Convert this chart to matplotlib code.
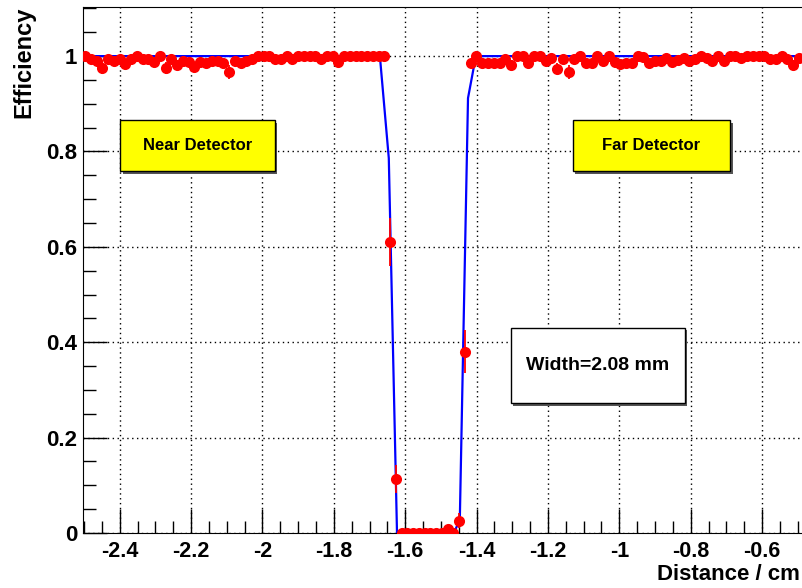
import numpy as np
import matplotlib
matplotlib.use("Agg")
import matplotlib.pyplot as plt
from matplotlib.patches import Rectangle
from matplotlib.ticker import MultipleLocator, FormatStrFormatter

plt.rcParams['font.family'] = ['Liberation Sans', 'DejaVu Sans']
plt.rcParams['font.weight'] = 'bold'
plt.rcParams['axes.unicode_minus'] = False

# bin centres of the scan (cm)
x_first = -2.497
x_last = -0.497
n_points = 125

# efficiency per bin: near-detector side, gap, far-detector side
eff_near = [1.0, 0.995, 0.99, 0.975, 0.995, 0.99, 0.995, 0.983, 0.995, 1.0,
            0.993, 0.993, 0.988, 1.0, 0.975, 0.995, 0.981, 0.99, 0.988, 0.978,
            0.988, 0.985, 0.99, 0.99, 0.985, 0.967, 0.99, 0.985, 0.99, 0.995,
            1.0, 1.0, 1.0, 0.995, 0.993, 1.0, 0.993, 1.0, 1.0, 1.0,
            1.0, 0.995, 1.0, 1.0, 0.988, 1.0, 1.0, 1.0, 1.0, 1.0,
            1.0, 1.0, 1.0]
eff_gap = [0.61, 0.113, 0.0, 0.0, 0.0, 0.0, 0.0, 0.0, 0.0, 0.0,
           0.008, 0.0, 0.026, 0.38]
eff_far = [0.986, 1.0, 0.985, 0.985, 0.985, 0.985, 0.993, 0.981, 1.0, 1.0,
           0.985, 1.0, 1.0, 0.99, 0.996, 0.974, 0.993, 0.966, 0.995, 1.0,
           0.986, 0.986, 1.0, 0.99, 1.0, 0.988, 0.983, 0.986, 0.986, 1.0,
           0.998, 0.985, 0.99, 0.99, 0.997, 0.988, 0.992, 0.997, 0.99, 0.995,
           1.0, 0.996, 0.99, 1.0, 0.99, 1.0, 1.0, 0.996, 1.0, 1.0,
           1.0, 1.0, 0.995, 0.994, 1.0, 0.994, 0.981, 0.996]

# visible error bars (bin index, error)
err_index = [3, 14, 25, 53, 54, 63, 65, 66, 82, 84, 123]
err_value = [0.012, 0.012, 0.014, 0.05, 0.03, 0.008, 0.015, 0.045, 0.012, 0.015, 0.01]

# fitted edge function (drawn as a polyline)
fit_x = [-2.503, -1.671, -1.646, -1.623, -1.464, -1.447, -1.424, -1.402, -0.488]
fit_y = [1.0, 1.0, 0.786, 0.0, 0.0, 0.027, 0.912, 1.0, 1.0]

dist = np.linspace(x_first, x_last, n_points)
eff = np.array(eff_near + eff_gap + eff_far)
eff_err = np.zeros(n_points)
eff_err[err_index] = err_value

fig = plt.figure(figsize=(8.02, 5.88), dpi=100)
ax = fig.add_axes([83 / 802, 55 / 588, 719 / 802, 526 / 588])

ax.plot(fit_x, fit_y, color='blue', lw=1.6, zorder=3)
ax.errorbar(dist, eff, yerr=eff_err, fmt='o', color='red', ms=8, mew=0,
            elinewidth=1.3, capsize=0, zorder=4)

ax.set_xlim(-2.503, -0.488)
ax.set_ylim(0, 1.103)
ax.xaxis.set_major_locator(MultipleLocator(0.2))
ax.xaxis.set_minor_locator(MultipleLocator(0.05))
ax.yaxis.set_major_locator(MultipleLocator(0.2))
ax.yaxis.set_minor_locator(MultipleLocator(0.05))
ax.xaxis.set_major_formatter(FormatStrFormatter('%g'))
ax.yaxis.set_major_formatter(FormatStrFormatter('%g'))
ax.tick_params(which='both', direction='in', labelsize=16, width=1, color='black')
ax.tick_params(which='major', length=17)
ax.tick_params(which='minor', length=9)
ax.tick_params(axis='x', pad=6, labelsize=15.5)
ax.tick_params(axis='y', pad=4)
ax.grid(True, which='major', color='black', linestyle=(0, (1, 2.5)), lw=1)
ax.spines['right'].set_visible(False)

ax.set_xlabel('Distance / cm', fontsize=16, fontweight='bold', loc='right')
ax.xaxis.set_label_coords(0.9975, -0.058)
ax.set_ylabel('Efficiency', fontsize=17, fontweight='bold', loc='top')
ax.yaxis.set_label_coords(-0.066, 1.0)


def pave(x0, y0, x1, y1, face, label, size):
    sx, sy = 2.5 / 719, 2.5 / 526
    ax.add_patch(Rectangle((x0 + sx, y0 - sy), x1 - x0, y1 - y0, transform=ax.transAxes,
                           facecolor='#555555', edgecolor='none', zorder=5))
    ax.add_patch(Rectangle((x0, y0), x1 - x0, y1 - y0, transform=ax.transAxes,
                           facecolor=face, edgecolor='black', lw=1, zorder=6))
    ax.text((x0 + x1) / 2, (y0 + y1) / 2, label, transform=ax.transAxes,
            ha='center', va='center', fontsize=size, fontweight='bold', zorder=7)


pave(0.0515, 0.688, 0.267, 0.785, 'yellow', 'Near Detector', 12)
pave(0.681, 0.688, 0.900, 0.785, 'yellow', 'Far Detector', 12)
pave(0.595, 0.247, 0.837, 0.390, 'white', 'Width=2.08 mm', 14)

fig.savefig('out.png', dpi=100)
